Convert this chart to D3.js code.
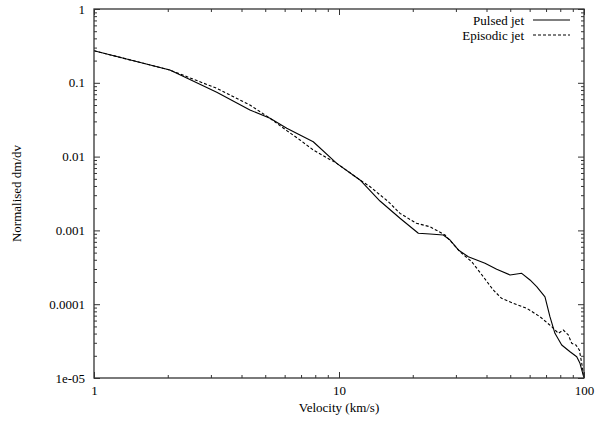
<!DOCTYPE html>
<html>
<head>
<meta charset="utf-8">
<script src="https://cdn.jsdelivr.net/npm/d3@7"></script>
<style>
  html, body { margin: 0; padding: 0; background: #fff; }
  svg { display: block; }
  text { font-family: "Liberation Serif", "Tinos", "Times New Roman", "DejaVu Serif", serif; font-size: 13px; fill: #000; }
</style>
</head>
<body>
<svg id="chart" width="598" height="423"></svg>
<script>
// ---- data ----
const seriesNames = ["Pulsed jet", "Episodic jet"];

const pulsedV = [1, 2.04, 3.17, 4.33, 5.23, 6.12, 6.93, 7.85, 9.79, 12.18, 14.7, 17.74, 21.08, 23.52, 26.65, 28.39, 30.69, 33.71, 39.44, 44.02, 49.89, 55.68, 60.2, 64.1, 69.3, 72.6, 76.1, 81.1, 87.7, 93.4, 96.3, 100];
const pulsedY = [0.272, 0.149, 0.0744, 0.0428, 0.033, 0.0242, 0.0196, 0.0159, 0.0081, 0.00482, 0.0025, 0.00146, 0.000914, 0.000894, 0.000867, 0.000741, 0.000543, 0.00044, 0.000358, 0.000297, 0.000249, 0.000262, 0.000213, 0.000173, 0.000126, 0.0000677, 0.0000403, 0.000028, 0.0000227, 0.0000194, 0.0000158, 0.00001];

const episodicV = [1, 2.04, 3.17, 4.33, 5.23, 6.12, 6.93, 7.85, 9.79, 12.18, 13.4, 15.9, 17.74, 20.7, 23.52, 27.08, 31.18, 34.8, 38.8, 42.6, 46.1, 51.5, 58.4, 66.1, 73.8, 78.6, 82.3, 86.3, 89.1, 92.7, 95.7, 97.9, 100];
const episodicY = [0.272, 0.149, 0.0842, 0.050, 0.033, 0.0225, 0.0168, 0.0123, 0.0081, 0.00482, 0.0039, 0.00245, 0.0017, 0.00125, 0.00112, 0.000867, 0.000514, 0.000377, 0.000236, 0.000156, 0.00012, 0.000103, 0.000088, 0.0000677, 0.0000496, 0.0000403, 0.0000447, 0.0000383, 0.0000295, 0.000028, 0.000024, 0.0000158, 0.00001];

const xTickValues = [1, 10, 100];
const xTickLabels = ["1", "10", "100"];
const yTickValues = [1, 0.1, 0.01, 0.001, 0.0001, 0.00001];
const yTickLabels = ["1", "0.1", "0.01", "0.001", "0.0001", "1e-05"];

// ---- layout ----
const margin = { left: 94, right: 14, top: 9, bottom: 45 };
const W = 598, H = 423;
const svg = d3.select("#chart");
const FONT = '"Liberation Serif", "Tinos", "Times New Roman", "DejaVu Serif", serif';

const x = d3.scaleLog().domain([1, 100]).range([margin.left, W - margin.right]);
const y = d3.scaleLog().domain([0.00001, 1]).range([H - margin.bottom, margin.top]);

const x0 = x.range()[0], x1 = x.range()[1];
const y0 = y.range()[0], y1 = y.range()[1];

function minors(lo, hi) {
  const out = [];
  for (let e = Math.log10(lo); e < Math.log10(hi); e++) {
    for (let m = 2; m <= 9; m++) out.push(m * Math.pow(10, e));
  }
  return out;
}
const xMinor = minors(1, 100);
const yMinor = minors(0.00001, 1);

const majorLen = 6, minorLen = 3;
const tickColor = "#333";

const axB = d3.axisBottom(x).tickValues(xTickValues).tickFormat((d, i) => xTickLabels[i]).tickSizeInner(-majorLen).tickSizeOuter(0).tickPadding(8);
const axT = d3.axisTop(x).tickValues(xTickValues).tickFormat("").tickSizeInner(-majorLen).tickSizeOuter(0);
const axL = d3.axisLeft(y).tickValues(yTickValues).tickFormat((d, i) => yTickLabels[i]).tickSizeInner(-majorLen).tickSizeOuter(0).tickPadding(9);
const axR = d3.axisRight(y).tickValues(yTickValues).tickFormat("").tickSizeInner(-majorLen).tickSizeOuter(0);

const axBm = d3.axisBottom(x).tickValues(xMinor).tickFormat("").tickSizeInner(-minorLen).tickSizeOuter(0);
const axTm = d3.axisTop(x).tickValues(xMinor).tickFormat("").tickSizeInner(-minorLen).tickSizeOuter(0);
const axLm = d3.axisLeft(y).tickValues(yMinor).tickFormat("").tickSizeInner(-minorLen).tickSizeOuter(0);
const axRm = d3.axisRight(y).tickValues(yMinor).tickFormat("").tickSizeInner(-minorLen).tickSizeOuter(0);

function styleAxis(g) {
  g.attr("font-family", FONT).attr("font-size", 13);
  g.select(".domain").remove();
  g.selectAll(".tick line").attr("stroke", tickColor).attr("stroke-width", 1);
  g.selectAll("text").attr("font-family", FONT).attr("font-size", 13).attr("fill", "#000");
}

svg.append("g").attr("transform", `translate(0,${y0})`).call(axB).call(styleAxis);
svg.append("g").attr("transform", `translate(0,${y1})`).call(axT).call(styleAxis);
svg.append("g").attr("transform", `translate(${x0},0)`).call(axL).call(styleAxis);
svg.append("g").attr("transform", `translate(${x1},0)`).call(axR).call(styleAxis);
svg.append("g").attr("transform", `translate(0,${y0})`).call(axBm).call(styleAxis);
svg.append("g").attr("transform", `translate(0,${y1})`).call(axTm).call(styleAxis);
svg.append("g").attr("transform", `translate(${x0},0)`).call(axLm).call(styleAxis);
svg.append("g").attr("transform", `translate(${x1},0)`).call(axRm).call(styleAxis);

svg.append("clipPath").attr("id", "clip").append("rect")
  .attr("x", x0).attr("y", y1).attr("width", x1 - x0).attr("height", y0 - y1);

const line = d3.line().x(d => x(d[0])).y(d => y(d[1]));

const pulsed = pulsedV.map((v, i) => [v, pulsedY[i]]);
const episodic = episodicV.map((v, i) => [v, episodicY[i]]);

svg.append("path").datum(pulsed).attr("d", line).attr("clip-path", "url(#clip)")
  .attr("fill", "none").attr("stroke", "#000").attr("stroke-width", 1.1).attr("stroke-linejoin", "round");
svg.append("path").datum(episodic).attr("d", line).attr("clip-path", "url(#clip)")
  .attr("fill", "none").attr("stroke", "#000").attr("stroke-width", 1.1).attr("stroke-dasharray", "3,2").attr("stroke-linejoin", "round");

svg.append("rect").attr("x", x0).attr("y", y1).attr("width", x1 - x0).attr("height", y0 - y1)
  .attr("fill", "none").attr("stroke", tickColor).attr("stroke-width", 1.3);

const legend = svg.append("g");
const legendStyles = [null, "3,2"];
seriesNames.forEach((name, i) => {
  const ly = 20 + i * 15;
  legend.append("text").attr("x", 524).attr("y", ly).attr("dy", "0.35em").attr("text-anchor", "end")
    .attr("font-family", FONT).attr("font-size", 12).text(name);
  legend.append("line").attr("x1", 533).attr("x2", 570).attr("y1", ly).attr("y2", ly)
    .attr("stroke", "#000").attr("stroke-width", 1.1)
    .attr("stroke-dasharray", legendStyles[i]);
});

svg.append("text").attr("x", (x0 + x1) / 2).attr("y", 412).attr("text-anchor", "middle")
  .attr("font-family", FONT).attr("font-size", 13).text("Velocity (km/s)");
svg.append("text").attr("transform", `translate(21,${(y0 + y1) / 2}) rotate(-90)`).attr("text-anchor", "middle")
  .attr("font-family", FONT).attr("font-size", 13).text("Normalised dm/dv");
</script>
</body>
</html>
